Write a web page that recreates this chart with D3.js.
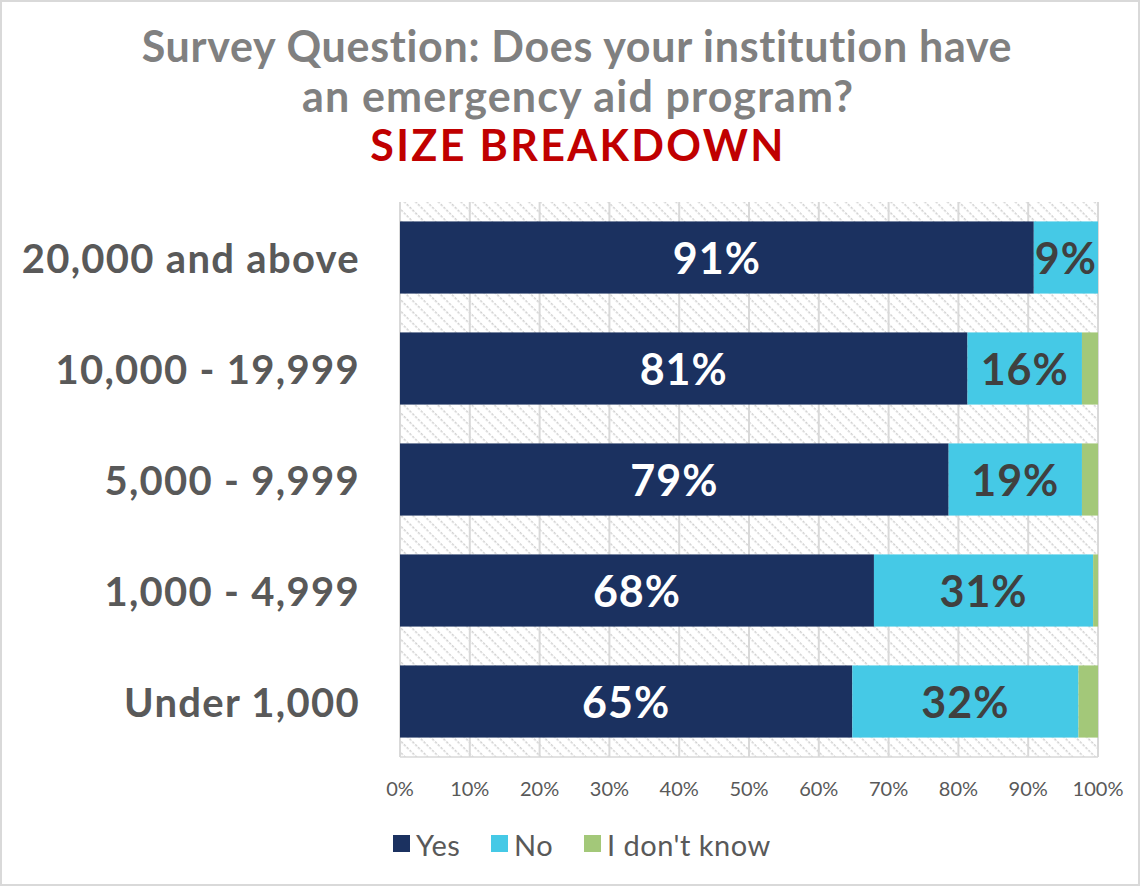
<!DOCTYPE html>
<html>
<head>
<meta charset="utf-8">
<script src="https://cdn.jsdelivr.net/npm/d3@7"></script>
<style>
  html, body { margin: 0; padding: 0; background: #fff; }
  svg { display: block; font-family: Lato, "Open Sans", sans-serif; }
</style>
</head>
<body>
<div id="chart"></div>
<script>
// ---- data ----
const categories = ["20,000 and above", "10,000 - 19,999", "5,000 - 9,999", "1,000 - 4,999", "Under 1,000"];
const seriesNames = ["Yes", "No", "I don't know"];
const yesValues = [90.8, 81.3, 78.6, 67.9, 64.8];
const noValues  = [9.2, 16.4, 19.1, 31.4, 32.4];
const dkValues  = [0.0, 2.3, 2.3, 0.7, 2.8];
const tickLabels = ["0%", "10%", "20%", "30%", "40%", "50%", "60%", "70%", "80%", "90%", "100%"];
const titleLines = ["Survey Question: Does your institution have", "an emergency aid program?"];
const subtitle = "SIZE BREAKDOWN";

const colors = ["#1b3160", "#45c9e6", "#a3c879"];
const labelColors = ["#ffffff", "#404040", null];

const W = 1140, H = 887;
const svg = d3.select("#chart").append("svg").attr("width", W).attr("height", H);

// fit a text element to a target width via letter-spacing
function fitWidth(sel, target) {
  sel.each(function () {
    const n = this.getNumberOfChars();
    const w = this.getComputedTextLength();
    const ls = (target - w) / Math.max(1, n - 1);
    d3.select(this).attr("letter-spacing", ls.toFixed(2));
  });
}

// border
svg.append("rect").attr("x", 1).attr("y", 1).attr("width", W - 2).attr("height", H - 3)
  .attr("fill", "#fff").attr("stroke", "#d9d9d9").attr("stroke-width", 2);

// hatch pattern
const defs = svg.append("defs");
const pat = defs.append("pattern").attr("id", "hatch").attr("patternUnits", "userSpaceOnUse")
  .attr("width", 8).attr("height", 8).attr("patternTransform", "rotate(45)");
pat.append("rect").attr("width", 8).attr("height", 8).attr("fill", "#fff");
pat.append("line").attr("x1", 0).attr("y1", 0).attr("x2", 8).attr("y2", 0)
  .attr("stroke", "#d0d0d0").attr("stroke-width", 3).attr("stroke-dasharray", "2.5 1.5");

const plot = { left: 400, right: 1098, top: 202, bottom: 757 };

const x = d3.scaleLinear().domain([0, 100]).range([plot.left, plot.right]);
const y = d3.scaleBand().domain(categories).range([plot.top, plot.bottom])
  .paddingInner(0.35).paddingOuter(0.175);

// plot background
svg.append("rect").attr("x", plot.left).attr("y", plot.top)
  .attr("width", plot.right - plot.left).attr("height", plot.bottom - plot.top)
  .attr("fill", "url(#hatch)");

// gridlines
svg.append("g").selectAll("line").data(d3.range(0, 101, 10)).join("line")
  .attr("x1", d => x(d)).attr("x2", d => x(d))
  .attr("y1", plot.top).attr("y2", plot.bottom)
  .attr("stroke", "#d9d9d9").attr("stroke-width", 2);
svg.append("line").attr("x1", plot.left).attr("x2", plot.right)
  .attr("y1", plot.bottom).attr("y2", plot.bottom)
  .attr("stroke", "#d9d9d9").attr("stroke-width", 1.5);

// stacked data
const rows = categories.map((c, i) => ({ cat: c, Yes: yesValues[i], No: noValues[i], "I don't know": dkValues[i] }));
const stacked = d3.stack().keys(seriesNames)(rows);

const layers = svg.append("g").selectAll("g").data(stacked).join("g")
  .attr("fill", (d, i) => colors[i]);
layers.selectAll("rect").data(d => d).join("rect")
  .attr("x", d => x(d[0])).attr("width", d => x(d[1]) - x(d[0]))
  .attr("y", d => y(d.data.cat)).attr("height", y.bandwidth());

// bar labels
stacked.forEach((layer, i) => {
  if (!labelColors[i]) return;
  svg.append("g").selectAll("text").data(layer).join("text")
    .attr("x", d => (x(d[0]) + x(d[1])) / 2)
    .attr("y", d => y(d.data.cat) + y.bandwidth() / 2)
    .attr("text-anchor", "middle").attr("dominant-baseline", "central")
    .attr("fill", labelColors[i]).attr("font-weight", 700).attr("font-size", 43)
    .attr("letter-spacing", 1)
    .text(d => Math.round(d[1] - d[0]) + "%");
});

// category labels
svg.append("g").selectAll("text").data(categories).join("text")
  .attr("x", 360).attr("y", d => y(d) + y.bandwidth() / 2)
  .attr("text-anchor", "end").attr("dominant-baseline", "central")
  .attr("fill", "#595959").attr("font-weight", 700).attr("font-size", 40)
  .attr("letter-spacing", 1.3)
  .text(d => d);

// x tick labels
svg.append("g").selectAll("text").data(tickLabels).join("text")
  .attr("x", (d, i) => x(i * 10)).attr("y", 788)
  .attr("text-anchor", "middle").attr("dominant-baseline", "central")
  .attr("fill", "#595959").attr("font-size", 20)
  .text(d => d);

// title
const titleSize = 43;
const t1 = svg.append("text").attr("x", 577).attr("y", 62).attr("text-anchor", "middle")
  .attr("fill", "#808080").attr("font-weight", 700).attr("font-size", titleSize).text(titleLines[0]);
const t2 = svg.append("text").attr("x", 578).attr("y", 112).attr("text-anchor", "middle")
  .attr("fill", "#808080").attr("font-weight", 700).attr("font-size", titleSize).text(titleLines[1]);
const t3 = svg.append("text").attr("x", 578).attr("y", 161).attr("text-anchor", "middle")
  .attr("fill", "#c00000").attr("font-weight", 700).attr("font-size", titleSize).text(subtitle);
fitWidth(t1, 872);
fitWidth(t2, 551);
fitWidth(t3, 413);

// legend
const legendX = [393, 491, 584];
const lg = svg.append("g").selectAll("g").data(seriesNames).join("g")
  .attr("transform", (d, i) => `translate(${legendX[i]},835)`);
lg.append("rect").attr("width", 17).attr("height", 17).attr("fill", (d, i) => colors[i]);
lg.append("text").attr("x", 23).attr("y", 9).attr("dominant-baseline", "central")
  .attr("fill", "#595959").attr("font-size", 29).attr("letter-spacing", 0.5).text(d => d);
</script>
</body>
</html>
